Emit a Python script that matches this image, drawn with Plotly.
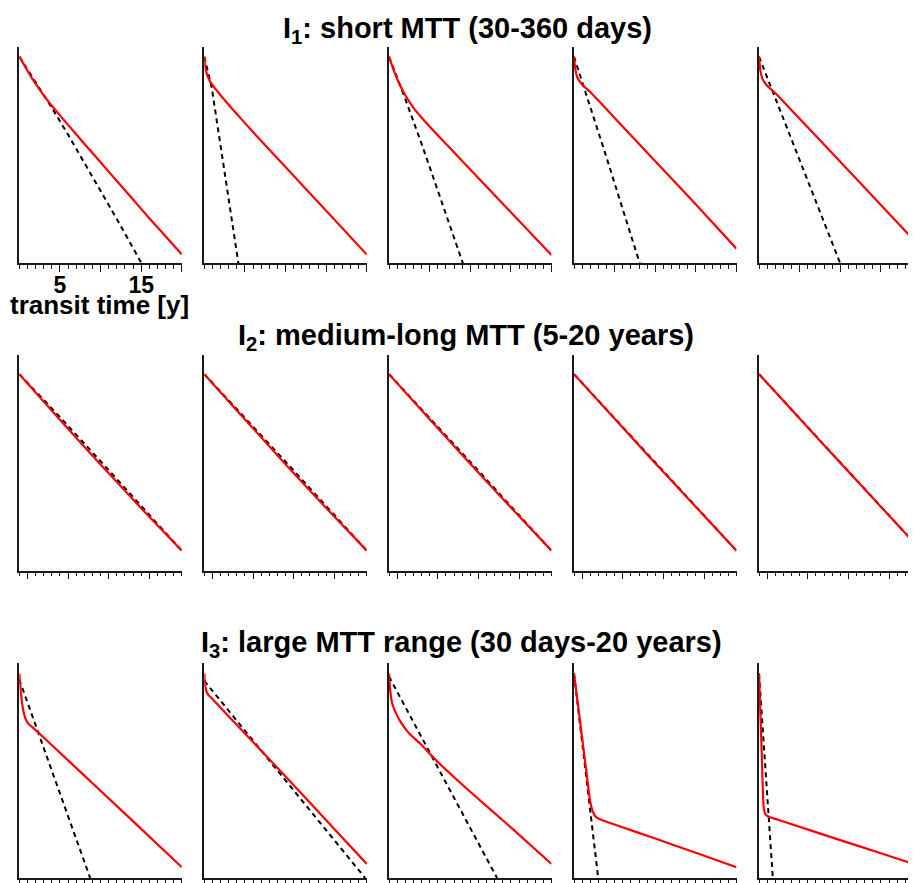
import plotly.graph_objects as go

# ---------------- data (y = fraction of panel height, log-scaled density) ----------------
ROW_TITLES = ["I<sub>1</sub>: short MTT (30-360 days)",
              "I<sub>2</sub>: medium-long MTT (5-20 years)",
              "I<sub>3</sub>: large MTT range (30 days-20 years)"]
X_AXIS_TITLE = "transit time [y]"
TICK_LABELS_ROW1 = ["5", "", "15", ""]
TICK_VALS_ROW1 = [5, 10, 15, 20]
TICK_VALS_ROW2 = [1, 6, 11, 16]

# Row 1
ROW1_RED_X = [
    [0, 1, 2, 3, 4, 6, 8, 10, 12, 14, 16, 18, 20],
    [0, 0.15, 0.4, 0.8, 1.3, 2, 3, 4, 6, 10, 15, 20],
    [0, 0.5, 1, 1.5, 2, 3, 4, 5, 6, 8, 10, 15, 20],
    [0, 0.15, 0.4, 0.8, 1.3, 2, 3, 5, 10, 15, 20],
    [0, 0.15, 0.4, 0.8, 1.3, 2, 3, 5, 10, 15, 20],
]
ROW1_RED_Y = [
    [0.955, 0.89, 0.83, 0.776, 0.728, 0.640, 0.553, 0.467, 0.381, 0.295, 0.209, 0.125, 0.041],
    [0.955, 0.9, 0.865, 0.835, 0.81, 0.777, 0.733, 0.69, 0.607, 0.445, 0.243, 0.041],
    [0.955, 0.9, 0.853, 0.812, 0.777, 0.72, 0.674, 0.632, 0.5925, 0.513, 0.434, 0.2365, 0.039],
    [0.955, 0.9, 0.86, 0.835, 0.815, 0.792, 0.752, 0.672, 0.472, 0.272, 0.068],
    [0.955, 0.895, 0.855, 0.83, 0.81, 0.787, 0.748, 0.668, 0.47, 0.27, 0.07],
]
ROW1_BLACK_X = [
    [0, 2, 4, 6, 8, 10, 12, 14, 15.05],
    [0, 0.5, 0.9, 2.3, 4.2],
    [0, 1, 2, 4, 6, 8, 9.1],
    [0, 1, 2, 4, 6, 8.1],
    [0, 1, 3, 5, 7, 10],
]
ROW1_BLACK_Y = [
    [0.955, 0.839, 0.719, 0.595, 0.467, 0.337, 0.205, 0.071, 0.0],
    [0.955, 0.88, 0.815, 0.47, 0.0],
    [0.955, 0.86, 0.76, 0.554, 0.34, 0.12, 0.0],
    [0.955, 0.84, 0.725, 0.49, 0.25, 0.0],
    [0.955, 0.86, 0.67, 0.48, 0.29, 0.0],
]

# Row 2
ROW2_X = [0, 5, 10, 15, 20]
ROW2_RED_Y = [
    [0.912, 0.700, 0.493, 0.290, 0.093],
    [0.912, 0.702, 0.494, 0.291, 0.093],
    [0.912, 0.703, 0.496, 0.293, 0.093],
    [0.912, 0.705, 0.499, 0.296, 0.093],
    [0.912, 0.706, 0.501, 0.297, 0.093],
]
ROW2_BLACK_Y = [
    [0.912, 0.713, 0.508, 0.302, 0.093],
    [0.912, 0.711, 0.506, 0.300, 0.093],
    [0.912, 0.710, 0.505, 0.299, 0.093],
    [0.912, 0.708, 0.503, 0.298, 0.093],
    [0.912, 0.708, 0.503, 0.298, 0.093],
]

# Row 3
ROW3_RED_X = [
    [0, 0.1, 0.25, 0.45, 0.7, 0.95, 1.2, 1.6, 3, 6, 10, 15, 20],
    [0, 0.1, 0.3, 0.6, 0.95, 2, 5, 10, 15, 20],
    [0, 0.15, 0.4, 0.86, 1.5, 2.5, 3.8, 5.8, 10, 15, 20],
    [0, 0.5, 1, 1.5, 1.97, 2.3, 2.6, 3.0, 3.5, 5, 10, 15, 20],
    [0, 0.1, 0.2, 0.3, 0.4, 0.5, 0.6, 0.8, 1.14, 3, 10, 15, 20],
]
ROW3_RED_Y = [
    [0.949, 0.9, 0.84, 0.785, 0.745, 0.725, 0.712, 0.7, 0.652, 0.546, 0.405, 0.228, 0.05],
    [0.949, 0.895, 0.862, 0.845, 0.833, 0.79, 0.671, 0.471, 0.268, 0.065],
    [0.949, 0.87, 0.81, 0.764, 0.72, 0.67, 0.625, 0.546, 0.4, 0.235, 0.065],
    [0.949, 0.8, 0.65, 0.5, 0.36, 0.31, 0.288, 0.276, 0.268, 0.248, 0.183, 0.117, 0.05],
    [0.949, 0.84, 0.73, 0.62, 0.5, 0.38, 0.32, 0.295, 0.285, 0.262, 0.176, 0.115, 0.053],
]
ROW3_BLACK_X = [
    [0, 8.72],
    [0, 19.8],
    [0, 13.3],
    [0, 2.98],
    [0, 1.7],
]
ROW3_BLACK_Y = [
    [0.921, 0.0],
    [0.915, 0.0],
    [0.935, 0.0],
    [0.949, 0.0],
    [0.949, 0.0],
]

# ---------------- layout geometry (pixels in the page; page body has an 8px margin) ----------------
OFF = 8
W, H = 916 - OFF, 883 - OFF
COL_LEFT = [19.3, 204.3, 389, 574, 759]
COL_W = 162.5
ROW_TOP = [47, 356, 664]
ROW_BOT = [264, 572, 880]
FONT = "Liberation Sans, Arial, sans-serif"

fig = go.Figure()
layout = dict(width=W, height=H, margin=dict(l=0, r=0, t=0, b=0, pad=0),
              paper_bgcolor="white", plot_bgcolor="white", showlegend=False)

red_x_rows = [ROW1_RED_X, [ROW2_X] * 5, ROW3_RED_X]
red_y_rows = [ROW1_RED_Y, ROW2_RED_Y, ROW3_RED_Y]
blk_x_rows = [ROW1_BLACK_X, [ROW2_X] * 5, ROW3_BLACK_X]
blk_y_rows = [ROW1_BLACK_Y, ROW2_BLACK_Y, ROW3_BLACK_Y]

axcol = "#1a1a1a"
for r in range(3):
    for c in range(5):
        idx = r * 5 + c + 1
        xn = "x" if idx == 1 else f"x{idx}"
        yn = "y" if idx == 1 else f"y{idx}"
        xk = "xaxis" if idx == 1 else f"xaxis{idx}"
        yk = "yaxis" if idx == 1 else f"yaxis{idx}"
        left = COL_LEFT[c] - OFF
        right = min(left + COL_W, W)
        xmax = 20 * (right - left) / COL_W
        xa = dict(domain=[left / W, right / W], range=[0, xmax], anchor=yn,
                  showline=True, linecolor=axcol, linewidth=1.5,
                  showgrid=False, zeroline=False, ticks="outside",
                  tickcolor=axcol, tickwidth=1.3, fixedrange=True,
                  showticklabels=False)
        if r == 0:
            xa.update(tickmode="array", tickvals=TICK_VALS_ROW1, ticklen=7,
                      minor=dict(ticks="outside", dtick=1, tick0=0, ticklen=4,
                                 tickwidth=1.1, tickcolor=axcol, showgrid=False))
            if c == 0:
                xa.update(showticklabels=True, ticktext=TICK_LABELS_ROW1,
                          ticklabelstandoff=-7,
                          tickfont=dict(family=FONT, size=23, color="black", weight="bold"))
        elif r == 1:
            xa.update(tickmode="array", tickvals=TICK_VALS_ROW2, ticklen=7,
                      minor=dict(ticks="outside", dtick=1, tick0=0, ticklen=4,
                                 tickwidth=1.1, tickcolor=axcol, showgrid=False))
        else:
            xa.update(tickmode="linear", tick0=0, dtick=1, ticklen=5, tickwidth=1.1)
        ya = dict(domain=[1 - (ROW_BOT[r] - OFF) / H, 1 - (ROW_TOP[r] - OFF) / H],
                  range=[0, 1], anchor=xn, showline=True, linecolor=axcol, linewidth=1.5,
                  showgrid=False, zeroline=False, ticks="", showticklabels=False,
                  fixedrange=True)
        layout[xk] = xa
        layout[yk] = ya

        fig.add_trace(go.Scatter(x=blk_x_rows[r][c], y=blk_y_rows[r][c], mode="lines",
                                 line=dict(color="black", width=2, dash="5px,4px"),
                                 xaxis=xn, yaxis=yn, hoverinfo="skip"))
        fig.add_trace(go.Scatter(x=red_x_rows[r][c], y=red_y_rows[r][c], mode="lines",
                                 line=dict(color="#ff0000", width=2.2, shape="spline",
                                           smoothing=0.35),
                                 xaxis=xn, yaxis=yn, hoverinfo="skip"))

TITLE_X = [467, 466, 461]
TITLE_Y = [30, 338, 645]
annotations = []
for r in range(3):
    annotations.append(dict(text=ROW_TITLES[r], xref="paper", yref="paper",
                            x=(TITLE_X[r] - OFF) / W, y=1 - (TITLE_Y[r] - OFF) / H,
                            xanchor="center", yanchor="middle", showarrow=False,
                            font=dict(family=FONT, size=29, color="black", weight="bold")))
annotations.append(dict(text=X_AXIS_TITLE, xref="paper", yref="paper",
                        x=(99 - OFF) / W, y=1 - (306 - OFF) / H, xanchor="center",
                        yanchor="middle", showarrow=False,
                        font=dict(family=FONT, size=26, color="black", weight="bold")))
layout["annotations"] = annotations
fig.update_layout(**layout)
fig.write_html("out.html")
